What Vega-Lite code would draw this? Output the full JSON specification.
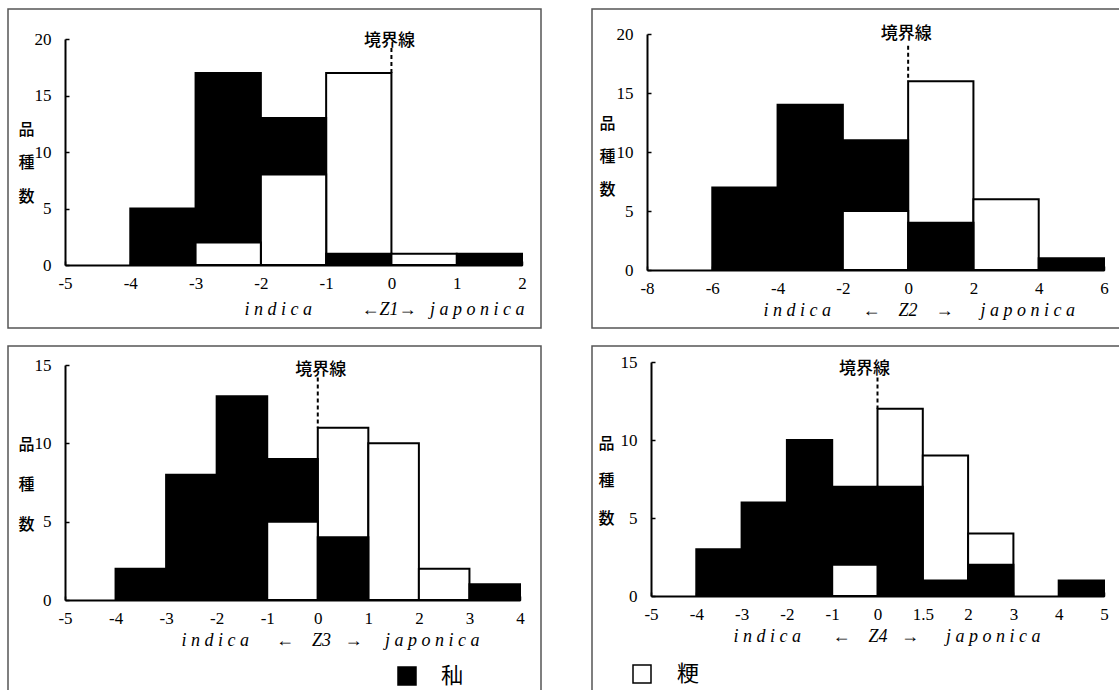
{
  "$schema": "https://vega.github.io/schema/vega-lite/v6.json",
  "padding": {"left": 7, "top": 8, "right": 0, "bottom": 0},
  "background": "white",
  "spacing": 16,
  "resolve": {"scale": {"color": "independent"}, "legend": {"color": "independent"}},
  "datasets": {
    "z1": [
      {"type": "秈", "from": -4, "to": -3, "count": 5},
      {"type": "秈", "from": -3, "to": -2, "count": 17},
      {"type": "秈", "from": -2, "to": -1, "count": 13},
      {"type": "秈", "from": -1, "to": 0, "count": 1},
      {"type": "秈", "from": 1, "to": 2, "count": 1},
      {"type": "粳", "from": -3, "to": -2, "count": 2},
      {"type": "粳", "from": -2, "to": -1, "count": 8},
      {"type": "粳", "from": -1, "to": 0, "count": 17},
      {"type": "粳", "from": 0, "to": 1, "count": 1}
    ],
    "z2": [
      {"type": "秈", "from": -6, "to": -4, "count": 7},
      {"type": "秈", "from": -4, "to": -2, "count": 14},
      {"type": "秈", "from": -2, "to": 0, "count": 11},
      {"type": "秈", "from": 0, "to": 2, "count": 4},
      {"type": "秈", "from": 4, "to": 6, "count": 1},
      {"type": "粳", "from": -2, "to": 0, "count": 5},
      {"type": "粳", "from": 0, "to": 2, "count": 16},
      {"type": "粳", "from": 2, "to": 4, "count": 6}
    ],
    "z3": [
      {"type": "秈", "from": -4, "to": -3, "count": 2},
      {"type": "秈", "from": -3, "to": -2, "count": 8},
      {"type": "秈", "from": -2, "to": -1, "count": 13},
      {"type": "秈", "from": -1, "to": 0, "count": 9},
      {"type": "秈", "from": 0, "to": 1, "count": 4},
      {"type": "秈", "from": 3, "to": 4, "count": 1},
      {"type": "粳", "from": -1, "to": 0, "count": 5},
      {"type": "粳", "from": 0, "to": 1, "count": 11},
      {"type": "粳", "from": 1, "to": 2, "count": 10},
      {"type": "粳", "from": 2, "to": 3, "count": 2}
    ],
    "z4": [
      {"type": "秈", "from": -4, "to": -3, "count": 3},
      {"type": "秈", "from": -3, "to": -2, "count": 6},
      {"type": "秈", "from": -2, "to": -1, "count": 10},
      {"type": "秈", "from": -1, "to": 0, "count": 7},
      {"type": "秈", "from": 0, "to": 1.5, "count": 7},
      {"type": "秈", "from": 1.5, "to": 2, "count": 1},
      {"type": "秈", "from": 2, "to": 3, "count": 2},
      {"type": "秈", "from": 4, "to": 5, "count": 1},
      {"type": "粳", "from": -1, "to": 0, "count": 2},
      {"type": "粳", "from": 0, "to": 1.5, "count": 12},
      {"type": "粳", "from": 1.5, "to": 2, "count": 9},
      {"type": "粳", "from": 2, "to": 3, "count": 4}
    ]
  },
  "vconcat": [
    {
      "spacing": 49,
      "resolve": {"scale": {"color": "independent"}, "legend": {"color": "independent"}},
      "hconcat": [
        {
          "width": 533, "height": 319,
          "layer": [
            {
              "data": {"name": "z1"},
              "mark": {"type": "bar", "stroke": "black", "strokeWidth": 2},
              "encoding": {
                "x": {"field": "from", "type": "quantitative",
                  "scale": {"domain": [-5, 2], "range": [57, 514], "nice": false, "zero": false},
                  "axis": {"values": [-5, -4, -3, -2, -1, 0, 1, 2], "labelExpr": "datum.value + ''", "offset": -63,
                    "title": "i n d i c a\u00a0\u00a0\u00a0\u00a0\u00a0\u00a0\u00a0\u00a0\u00a0\u00a0\u00a0←Z1→\u00a0\u00a0\u00a0j a p o n i c a",
                    "titleX": 236, "titleY": 44}},
                "x2": {"field": "to"},
                "y": {"field": "count", "type": "quantitative", "stack": null,
                  "scale": {"domain": [0, 20], "range": [256, 30], "nice": false},
                  "axis": {"values": [0, 5, 10, 15, 20], "offset": -57, "title": ["品", "種", "数"], "titleX": -39, "titleY": 120, "titleLineHeight": 33.5}},
                "y2": {"datum": 0},
                "color": {"field": "type", "type": "nominal", "scale": {"domain": ["秈", "粳"], "range": ["black", "white"]}, "legend": null},
                "order": {"field": "count", "sort": "descending"}
              }
            },
            {
              "data": {"values": [{}]},
              "mark": {"type": "rule", "strokeDash": [4, 3], "strokeWidth": 2, "color": "black"},
              "encoding": {"x": {"datum": 0}, "y": {"datum": 19.2}, "y2": {"datum": 17}}
            },
            {
              "data": {"values": [{}]},
              "mark": {"type": "text", "text": "境界線", "font": "Noto Sans CJK JP", "fontSize": 17, "fontWeight": 500, "baseline": "middle", "dx": -2, "color": "black"},
              "encoding": {"x": {"datum": 0}, "y": {"datum": 19.8}}
            }
          ]
        },
        {
          "width": 529, "height": 319,
          "layer": [
            {
              "data": {"name": "z2"},
              "mark": {"type": "bar", "stroke": "black", "strokeWidth": 2},
              "encoding": {
                "x": {"field": "from", "type": "quantitative",
                  "scale": {"domain": [-8, 6], "range": [55, 512], "nice": false, "zero": false},
                  "axis": {"values": [-8, -6, -4, -2, 0, 2, 4, 6], "labelExpr": "datum.value + ''", "offset": -58,
                    "title": "i n d i c a\u00a0\u00a0\u00a0\u00a0\u00a0\u00a0\u00a0←\u00a0\u00a0\u00a0\u00a0Z2\u00a0\u00a0\u00a0\u00a0→\u00a0\u00a0\u00a0\u00a0\u00a0\u00a0j a p o n i c a",
                    "titleX": 171, "titleY": 40}},
                "x2": {"field": "to"},
                "y": {"field": "count", "type": "quantitative", "stack": null,
                  "scale": {"domain": [0, 20], "range": [261, 25], "nice": false},
                  "axis": {"values": [0, 5, 10, 15, 20], "offset": -55, "title": ["品", "種", "数"], "titleX": -40, "titleY": 114, "titleLineHeight": 33}},
                "y2": {"datum": 0},
                "color": {"field": "type", "type": "nominal", "scale": {"domain": ["秈", "粳"], "range": ["black", "white"]}, "legend": null},
                "order": {"field": "count", "sort": "descending"}
              }
            },
            {
              "data": {"values": [{}]},
              "mark": {"type": "rule", "strokeDash": [4, 3], "strokeWidth": 2, "color": "black"},
              "encoding": {"x": {"datum": 0}, "y": {"datum": 19}, "y2": {"datum": 16}}
            },
            {
              "data": {"values": [{}]},
              "mark": {"type": "text", "text": "境界線", "font": "Noto Sans CJK JP", "fontSize": 17, "fontWeight": 500, "baseline": "middle", "dx": -2, "color": "black"},
              "encoding": {"x": {"datum": 0}, "y": {"datum": 20}}
            }
          ]
        }
      ]
    },
    {
      "spacing": 49,
      "resolve": {"scale": {"color": "independent"}, "legend": {"color": "independent"}},
      "hconcat": [
        {
          "width": 533, "height": 346,
          "layer": [
            {
              "data": {"name": "z3"},
              "mark": {"type": "bar", "stroke": "black", "strokeWidth": 2},
              "encoding": {
                "x": {"field": "from", "type": "quantitative",
                  "scale": {"domain": [-5, 4], "range": [57, 512], "nice": false, "zero": false},
                  "axis": {"values": [-5, -4, -3, -2, -1, 0, 1, 2, 3, 4], "labelExpr": "datum.value + ''", "offset": -92,
                    "title": "i n d i c a\u00a0\u00a0\u00a0\u00a0\u00a0\u00a0←\u00a0\u00a0\u00a0\u00a0Z3\u00a0\u00a0\u00a0→\u00a0\u00a0\u00a0\u00a0\u00a0j a p o n i c a",
                    "titleX": 173, "titleY": 40}},
                "x2": {"field": "to"},
                "y": {"field": "count", "type": "quantitative", "stack": null,
                  "scale": {"domain": [0, 15], "range": [254, 19], "nice": false},
                  "axis": {"values": [0, 5, 10, 15], "offset": -57, "title": ["品", "種", "数"], "titleX": -39, "titleY": 98, "titleLineHeight": 40}},
                "y2": {"datum": 0},
                "color": {"field": "type", "type": "nominal", "scale": {"domain": ["秈", "粳"], "range": ["black", "white"]},
                  "legend": {"values": ["秈"], "orient": "none", "legendX": 388, "legendY": 319, "title": null, "padding": 0,
                    "symbolType": "square", "symbolSize": 324, "symbolStrokeColor": "black", "symbolStrokeWidth": 1.5,
                    "labelFont": "Noto Sans CJK JP", "labelFontSize": 22, "labelOffset": 23, "labelColor": "black"}},
                "order": {"field": "count", "sort": "descending"}
              }
            },
            {
              "data": {"values": [{}]},
              "mark": {"type": "rule", "strokeDash": [4, 3], "strokeWidth": 2, "color": "black"},
              "encoding": {"x": {"datum": 0}, "y": {"datum": 14.2}, "y2": {"datum": 11}}
            },
            {
              "data": {"values": [{}]},
              "mark": {"type": "text", "text": "境界線", "font": "Noto Sans CJK JP", "fontSize": 17, "fontWeight": 500, "baseline": "middle", "dx": 3, "color": "black"},
              "encoding": {"x": {"datum": 0}, "y": {"datum": 14.7}}
            }
          ]
        },
        {
          "width": 529, "height": 346,
          "layer": [
            {
              "data": {"name": "z4"},
              "mark": {"type": "bar", "stroke": "black", "strokeWidth": 2},
              "encoding": {
                "x": {"field": "from", "type": "quantitative",
                  "scale": {"domain": [-5, 0, 1.5, 2, 5], "range": [59, 285.5, 330.8, 376.1, 512], "nice": false, "zero": false},
                  "axis": {"values": [-5, -4, -3, -2, -1, 0, 1.5, 2, 3, 4, 5], "labelExpr": "datum.value + ''", "offset": -96,
                    "title": "i n d i c a\u00a0\u00a0\u00a0\u00a0\u00a0\u00a0\u00a0←\u00a0\u00a0\u00a0\u00a0Z4\u00a0\u00a0\u00a0→\u00a0\u00a0\u00a0\u00a0\u00a0\u00a0j a p o n i c a",
                    "titleX": 141, "titleY": 40}},
                "x2": {"field": "to"},
                "y": {"field": "count", "type": "quantitative", "stack": null,
                  "scale": {"domain": [0, 15], "range": [250, 16], "nice": false},
                  "axis": {"values": [0, 5, 10, 15], "offset": -59, "title": ["品", "種", "数"], "titleX": -45, "titleY": 97, "titleLineHeight": 37.5}},
                "y2": {"datum": 0},
                "color": {"field": "type", "type": "nominal", "scale": {"domain": ["秈", "粳"], "range": ["black", "white"]},
                  "legend": {"values": ["粳"], "orient": "none", "legendX": 39, "legendY": 317, "title": null, "padding": 0,
                    "symbolType": "square", "symbolSize": 324, "symbolStrokeColor": "black", "symbolStrokeWidth": 1.5,
                    "labelFont": "Noto Sans CJK JP", "labelFontSize": 22, "labelOffset": 24, "labelColor": "black"}},
                "order": {"field": "count", "sort": "descending"}
              }
            },
            {
              "data": {"values": [{}]},
              "mark": {"type": "rule", "strokeDash": [4, 3], "strokeWidth": 2, "color": "black"},
              "encoding": {"x": {"datum": 0}, "y": {"datum": 14}, "y2": {"datum": 12}}
            },
            {
              "data": {"values": [{}]},
              "mark": {"type": "text", "text": "境界線", "font": "Noto Sans CJK JP", "fontSize": 17, "fontWeight": 500, "baseline": "middle", "dx": -13, "color": "black"},
              "encoding": {"x": {"datum": 0}, "y": {"datum": 14.55}}
            }
          ]
        }
      ]
    }
  ],
  "config": {
    "view": {"stroke": "#555555", "strokeWidth": 1.5},
    "axis": {
      "grid": false, "domainColor": "black", "domainWidth": 2, "tickColor": "black", "tickWidth": 1.5, "tickSize": -4,
      "labelFont": "Liberation Serif", "labelFontSize": 17, "labelColor": "black", "zindex": 1,
      "labelOverlap": false, "labelFlush": false
    },
    "axisX": {
      "labelPadding": 14,
      "titleFont": "Liberation Serif", "titleFontStyle": "italic", "titleFontSize": 18, "titleFontWeight": "normal", "titleColor": "black",
      "titleAlign": "left", "titleBaseline": "middle", "titleAnchor": "start", "titleAngle": 0
    },
    "axisY": {
      "labelPadding": 18,
      "titleFont": "Noto Sans CJK JP", "titleFontSize": 16, "titleFontWeight": 500, "titleColor": "black",
      "titleAlign": "center", "titleBaseline": "middle", "titleAngle": 0
    }
  }
}
